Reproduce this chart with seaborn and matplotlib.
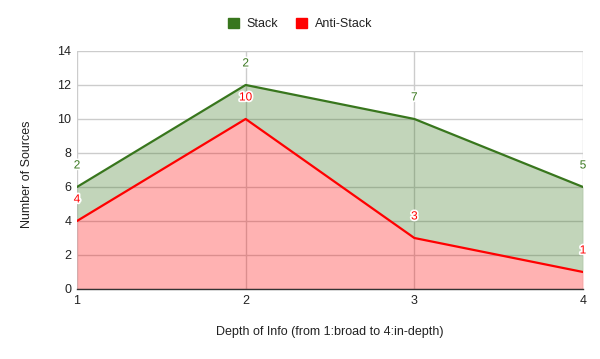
import matplotlib
matplotlib.use("Agg")
import matplotlib.pyplot as plt
import matplotlib.patheffects as pe
from matplotlib.patches import Patch
import numpy as np
import pandas as pd
import seaborn as sns

depth = [1, 2, 3, 4]
anti_stack = [4, 10, 3, 1]
stack = [2, 2, 7, 5]
y_ticks = [0, 2, 4, 6, 8, 10, 12, 14]

GREEN = "#38761d"
RED = "#ff0000"

sns.set_style("white")
plt.rcParams["font.family"] = ["Liberation Sans", "DejaVu Sans"]

df = pd.DataFrame({"depth": depth, "anti": anti_stack, "stack": stack})
df["total"] = df["anti"] + df["stack"]

fig = plt.figure(figsize=(6, 3.59), dpi=100)
ax = fig.add_axes([0.1283, 0.195, 0.8434, 0.663])

# grid under the fills
ax.set_axisbelow(True)
ax.grid(True, color="#cccccc", linewidth=1)

ax.fill_between(df["depth"], 0, df["anti"], color=RED, alpha=0.3, linewidth=0)
ax.fill_between(df["depth"], df["anti"], df["total"], color=GREEN, alpha=0.3, linewidth=0)
sns.lineplot(data=df, x="depth", y="total", color=GREEN, linewidth=1.6, ax=ax)
sns.lineplot(data=df, x="depth", y="anti", color=RED, linewidth=1.6, ax=ax)

outline = [pe.withStroke(linewidth=2.5, foreground="white")]
for x, a, s, t in zip(df["depth"], df["anti"], df["stack"], df["total"]):
    ax.annotate(str(s), (x, t), xytext=(0, 15.5), textcoords="offset points",
                ha="center", va="center", fontsize=8.5, color=GREEN, path_effects=outline)
    ax.annotate(str(a), (x, a), xytext=(0, 15.5), textcoords="offset points",
                ha="center", va="center", fontsize=8.5, color=RED, path_effects=outline)

ax.set_xlim(1, 4)
ax.set_ylim(0, 14)
ax.set_xticks(depth)
ax.set_yticks(y_ticks)
ax.tick_params(axis="both", length=0, labelsize=9, labelcolor="#222222", pad=4)
for side in ["top", "right", "left"]:
    ax.spines[side].set_visible(False)
ax.spines["bottom"].set_color("#333333")
ax.spines["bottom"].set_linewidth(1)
ax.set_xlabel("")
ax.set_ylabel("")

fig.text(330 / 600, 1 - 332 / 359, "Depth of Info (from 1:broad to 4:in-depth)",
         ha="center", va="center", fontsize=9, color="#222222")
fig.text(27 / 600, 1 - 174 / 359, "Number of Sources", rotation=90,
         ha="center", va="center", fontsize=9, color="#222222")

handles = [Patch(facecolor=GREEN, edgecolor=GREEN, label="Stack"),
           Patch(facecolor=RED, edgecolor=RED, label="Anti-Stack")]
fig.legend(handles=handles, loc="center", bbox_to_anchor=(0.5, 0.933), ncol=2,
           frameon=False, fontsize=9, handlelength=0.9, handleheight=0.9,
           handletextpad=0.6, columnspacing=1.4, labelcolor="#222222")

fig.savefig("out.png", dpi=100)
